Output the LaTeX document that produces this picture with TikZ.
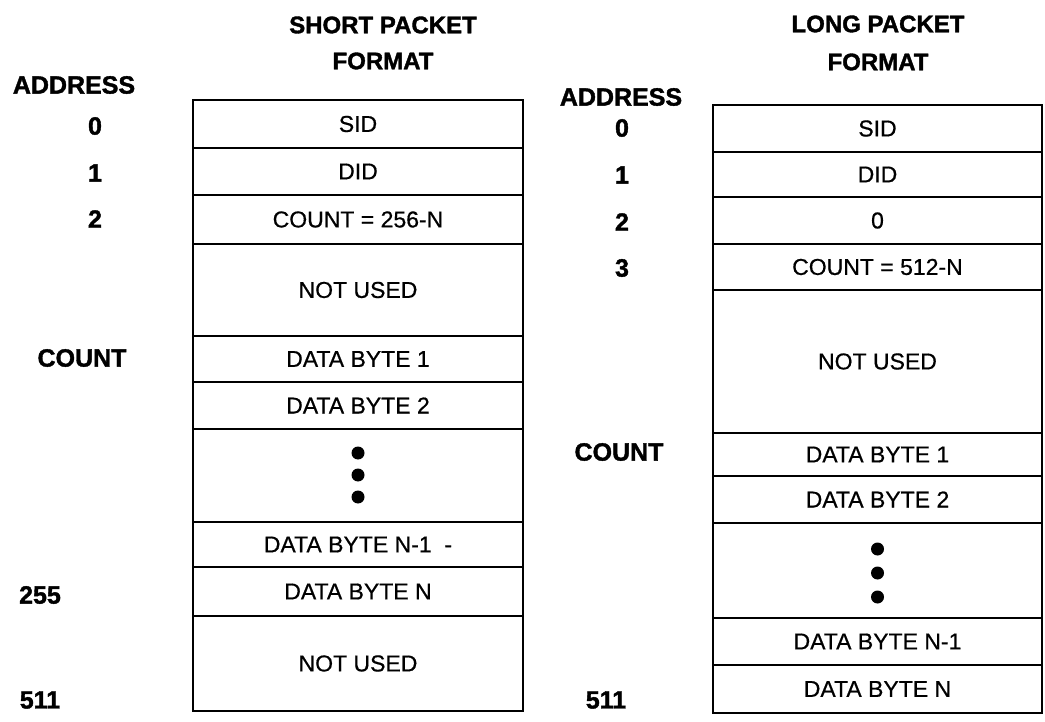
\documentclass[tikz,border=0pt]{standalone}
\usepackage{fontspec}
\setmainfont{Liberation Sans}
\newfontfamily\heavyfont[UprightFeatures={FakeBold=1.5}, BoldFeatures={FakeBold=1.5}]{Liberation Sans}
\newfontfamily\cellfont[UprightFeatures={FakeBold=0.6}]{Liberation Sans}
\begin{document}
\begin{tikzpicture}[x=1pt,y=-1pt,
  cell/.style={draw, line width=1.7pt, rectangle, inner sep=0pt, font=\cellfont\fontsize{23}{23}\selectfont},
  lcell/.style={cell, minimum width=330pt},
  rcell/.style={cell, minimum width=329pt},
  lab/.style={font=\heavyfont\bfseries\fontsize{25}{25}\selectfont, inner sep=0pt},
  ttl/.style={font=\heavyfont\bfseries\fontsize{24}{24}\selectfont, inner sep=0pt},
  dotmark/.style={circle, fill=black, inner sep=0pt, minimum size=13pt}]
\useasboundingbox (0,0) rectangle (1045,722);

% ---------- left: short packet ----------
\node[ttl] (ltitle1) at (383,25) {SHORT PACKET};
\node[ttl] (ltitle2) at (383,61) {FORMAT};
\node[lab] (laddr) at (74,85) {ADDRESS};
\node[lab] (la0) at (95,126) {0};
\node[lab] (la1) at (95,173) {1};
\node[lab] (la2) at (95,219) {2};
\node[lab] (lacount) at (82,358) {COUNT};
\node[lab] (la255) at (40,595) {255};
\node[lab] (la511) at (40,700) {511};

\node[lcell, minimum height=48pt] (l1) at (358,124) {SID};
\node[lcell, minimum height=47pt] (l2) at (358,171.5) {DID};
\node[lcell, minimum height=49pt] (l3) at (358,219.5) {COUNT = 256-N};
\node[lcell, minimum height=92pt] (l4) at (358,290) {NOT USED};
\node[lcell, minimum height=46pt] (l5) at (358,359) {DATA BYTE 1};
\node[lcell, minimum height=47pt] (l6) at (358,405.5) {DATA BYTE 2};
\node[lcell, minimum height=93pt] (l7) at (358,475.5) {};
\node[lcell, minimum height=45pt] (l8) at (358,544.5) {DATA BYTE N-1 \ -};
\node[lcell, minimum height=49pt] (l9) at (358,591.5) {DATA BYTE N};
\node[lcell, minimum height=95pt] (l10) at (358,663.5) {NOT USED};
\node[dotmark] (ld1) at (358,453) {};
\node[dotmark] (ld2) at (358,475) {};
\node[dotmark] (ld3) at (358,497) {};

% ---------- right: long packet ----------
\node[ttl] (rtitle1) at (878,24) {LONG PACKET};
\node[ttl] (rtitle2) at (878,62) {FORMAT};
\node[lab] (raddr) at (621,97) {ADDRESS};
\node[lab] (ra0) at (622,128) {0};
\node[lab] (ra1) at (622,175) {1};
\node[lab] (ra2) at (622,222) {2};
\node[lab] (ra3) at (622,268) {3};
\node[lab] (racount) at (619,452) {COUNT};
\node[lab] (ra511) at (606,700) {511};

\node[rcell, minimum height=47pt] (r1) at (877.5,128.5) {SID};
\node[rcell, minimum height=45pt] (r2) at (877.5,174.5) {DID};
\node[rcell, minimum height=47pt] (r3) at (877.5,220.5) {0};
\node[rcell, minimum height=46pt] (r4) at (877.5,267) {COUNT = 512-N};
\node[rcell, minimum height=143pt] (r5) at (877.5,361.5) {NOT USED};
\node[rcell, minimum height=43pt] (r6) at (877.5,454.5) {DATA BYTE 1};
\node[rcell, minimum height=47pt] (r7) at (877.5,499.5) {DATA BYTE 2};
\node[rcell, minimum height=95pt] (r8) at (877.5,570.5) {};
\node[rcell, minimum height=47pt] (r9) at (877.5,641.5) {DATA BYTE N-1};
\node[rcell, minimum height=48pt] (r10) at (877.5,689) {DATA BYTE N};
\node[dotmark] (rd1) at (877.5,549) {};
\node[dotmark] (rd2) at (877.5,573) {};
\node[dotmark] (rd3) at (877.5,597) {};
\end{tikzpicture}
\end{document}
